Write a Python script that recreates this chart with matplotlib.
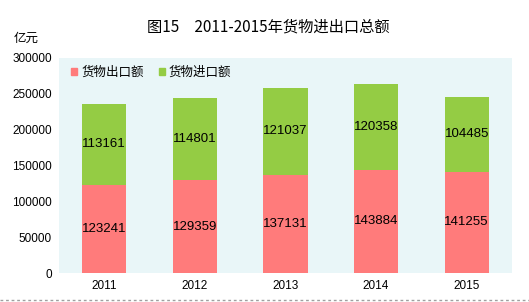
import matplotlib
matplotlib.use("Agg")
import matplotlib.pyplot as plt
from matplotlib.lines import Line2D
from matplotlib.patches import Patch

plt.rcParams['font.family'] = ['Noto Sans CJK SC', 'DejaVu Sans']

years = ['2011', '2012', '2013', '2014', '2015']
exports = [123241, 129359, 137131, 143884, 141255]
imports = [113161, 114801, 121037, 120358, 104485]
series_names = ['货物出口额', '货物进口额']
title = '图15　2011-2015年货物进出口总额'
unit = '亿元'
yticks = [0, 50000, 100000, 150000, 200000, 250000, 300000]

red = '#FF7B7B'
green = '#94CC44'
num_font = 'Liberation Sans'

W, H = 529, 302
fig = plt.figure(figsize=(W/100, H/100), dpi=100)
ax = fig.add_axes([59/W, 1-273/H, (512-59)/W, (273-58)/H])
ax.set_facecolor('#E9F6F8')

x = list(range(len(years)))
ax.bar(x, exports, width=0.49, color=red, zorder=2)
ax.bar(x, imports, width=0.49, bottom=exports, color=green, zorder=2)
for i in range(len(years)):
    ax.text(x[i], exports[i]/2, str(exports[i]), ha='center', va='center', fontsize=9.5,
            family=num_font, zorder=3)
    ax.text(x[i], exports[i] + imports[i]/2, str(imports[i]), ha='center', va='center',
            fontsize=9.5, family=num_font, zorder=3)

ax.set_xlim(-0.5, len(years)-0.5)
ax.set_ylim(0, 300000)
ax.set_yticks(yticks)
ax.set_yticklabels([str(v) for v in yticks], family=num_font, fontsize=8.5)
ax.set_xticks(x)
ax.set_xticklabels(years, family=num_font, fontsize=8.5)
ax.tick_params(length=0, pad=5)
for s in ax.spines.values():
    s.set_visible(False)

ax.legend(handles=[Patch(color=red), Patch(color=green)], labels=series_names,
          loc='upper left', bbox_to_anchor=(0.01, 1.0), ncol=2, frameon=False,
          fontsize=9, handlelength=0.5, handleheight=0.5, handletextpad=0.3,
          columnspacing=1.2, borderaxespad=0.2)

fig.text(268/W, 1-27/H, title, ha='center', va='center', fontsize=11)
fig.text(26/W, 1-38/H, unit, ha='center', va='center', fontsize=9)

fig.add_artist(Line2D([0, 1], [1-300/H, 1-300/H], transform=fig.transFigure,
                      color='#A0A0A0', lw=1, ls=(0, (2, 2))))

fig.savefig('out.png', dpi=100)
